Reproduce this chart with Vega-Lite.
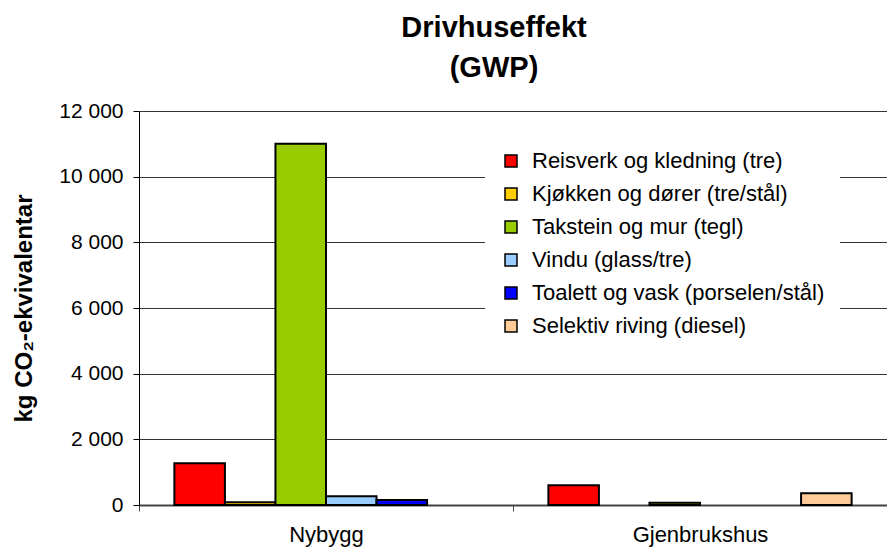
{
  "$schema": "https://vega.github.io/schema/vega-lite/v6.json",
  "width": 748,
  "height": 394,
  "autosize": {"type": "none"},
  "padding": {"left": 139, "top": 111, "right": 0, "bottom": 46},
  "background": "white",
  "title": {
    "text": ["Drivhuseffekt", "(GWP)"],
    "font": "Liberation Sans",
    "fontSize": 29,
    "fontWeight": "bold",
    "color": "black",
    "anchor": "middle",
    "frame": "group",
    "dx": -19,
    "lineHeight": 40,
    "offset": 17
  },
  "data": {
    "values": [
      {"gruppe": "Nybygg", "kategori": "Reisverk og kledning (tre)", "verdi": 1270},
      {"gruppe": "Nybygg", "kategori": "Kjøkken og dører (tre/stål)", "verdi": 80},
      {"gruppe": "Nybygg", "kategori": "Takstein og mur (tegl)", "verdi": 11000},
      {"gruppe": "Nybygg", "kategori": "Vindu (glass/tre)", "verdi": 270},
      {"gruppe": "Nybygg", "kategori": "Toalett og vask (porselen/stål)", "verdi": 150},
      {"gruppe": "Gjenbrukshus", "kategori": "Reisverk og kledning (tre)", "verdi": 600},
      {"gruppe": "Gjenbrukshus", "kategori": "Takstein og mur (tegl)", "verdi": 70},
      {"gruppe": "Gjenbrukshus", "kategori": "Selektiv riving (diesel)", "verdi": 360}
    ]
  },
  "mark": {"type": "bar", "stroke": "black", "strokeWidth": 2},
  "encoding": {
    "x": {
      "field": "gruppe",
      "type": "nominal",
      "sort": ["Nybygg", "Gjenbrukshus"],
      "scale": {"paddingInner": 0, "paddingOuter": 0},
      "axis": {
        "title": null,
        "labelAngle": 0,
        "tickBand": "extent",
        "tickSize": 6,
        "tickColor": "#444",
        "domainColor": "#444",
        "domainWidth": 2,
        "labelFont": "Liberation Sans",
        "labelFontSize": 22,
        "labelColor": "black",
        "labelPadding": 13
      }
    },
    "xOffset": {
      "field": "kategori",
      "type": "nominal",
      "sort": [
        "Reisverk og kledning (tre)",
        "Kjøkken og dører (tre/stål)",
        "Takstein og mur (tegl)",
        "Vindu (glass/tre)",
        "Toalett og vask (porselen/stål)",
        "Selektiv riving (diesel)"
      ],
      "scale": {
        "domain": [
          "Reisverk og kledning (tre)",
          "Kjøkken og dører (tre/stål)",
          "Takstein og mur (tegl)",
          "Vindu (glass/tre)",
          "Toalett og vask (porselen/stål)",
          "Selektiv riving (diesel)"
        ],
        "paddingInner": 0,
        "paddingOuter": 0.7
      }
    },
    "y": {
      "field": "verdi",
      "type": "quantitative",
      "scale": {"domain": [0, 12000], "nice": false},
      "axis": {
        "title": "kg CO₂-ekvivalentar",
        "titleFont": "Liberation Sans",
        "titleFontSize": 24,
        "titleFontWeight": "bold",
        "titleColor": "black",
        "titlePadding": 22,
        "values": [0, 2000, 4000, 6000, 8000, 10000, 12000],
        "labelExpr": "replace(format(datum.value, ','), ',', ' ')",
        "labelFont": "Liberation Sans",
        "labelFontSize": 21,
        "labelColor": "black",
        "labelPadding": 10,
        "tickSize": 6,
        "tickColor": "black",
        "domainColor": "black",
        "grid": true,
        "gridColor": "#333",
        "gridWidth": 1
      }
    },
    "color": {
      "field": "kategori",
      "type": "nominal",
      "scale": {
        "domain": [
          "Reisverk og kledning (tre)",
          "Kjøkken og dører (tre/stål)",
          "Takstein og mur (tegl)",
          "Vindu (glass/tre)",
          "Toalett og vask (porselen/stål)",
          "Selektiv riving (diesel)"
        ],
        "range": ["#FF0000", "#FFCC00", "#99CC00", "#99CCFF", "#0000FF", "#FFCC99"]
      },
      "legend": {
        "title": null,
        "orient": "none",
        "legendX": 346,
        "legendY": 24,
        "fillColor": "white",
        "padding": 15,
        "symbolType": "square",
        "symbolSize": 144,
        "symbolStrokeColor": "black",
        "symbolStrokeWidth": 1.5,
        "symbolOpacity": 1,
        "labelFont": "Liberation Sans",
        "labelFontSize": 22,
        "labelColor": "black",
        "labelOffset": 10,
        "labelLimit": 400,
        "rowPadding": 11
      }
    }
  },
  "config": {
    "view": {"stroke": null},
    "font": "Liberation Sans"
  }
}
